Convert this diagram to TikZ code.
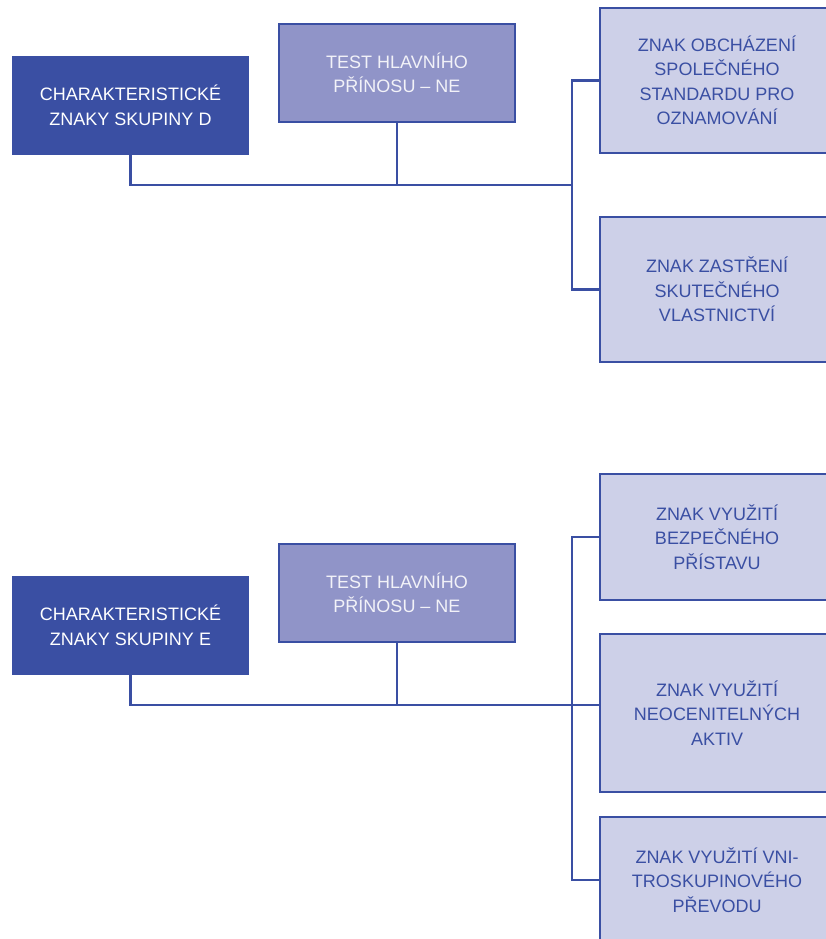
\documentclass[tikz,border=0pt]{standalone}
\usepackage{fontspec}
\setmainfont{Liberation Sans}
\usepackage{tikz}
\usetikzlibrary{positioning}

\definecolor{navy}{RGB}{58,79,163}
\definecolor{lilac}{RGB}{144,148,200}
\definecolor{pale}{RGB}{205,208,232}
\definecolor{snow}{RGB}{242,242,248}

\begin{document}
\begin{tikzpicture}[x=1pt,y=-1pt,line width=2.2pt,
            every node/.style={inner sep=0pt,align=center,
                  font=\fontsize{18}{24.5}\selectfont},
            grp/.style={rectangle,draw=navy,fill=navy,text=white,
                  minimum width=235pt,minimum height=97pt},
            test/.style={rectangle,draw=navy,fill=lilac,text=snow,
                  minimum width=236pt,minimum height=98pt},
            sign/.style={rectangle,draw=navy,fill=pale,text=navy,
                  minimum width=234pt},
            link/.style={draw=navy,line width=2.4pt}]

      \useasboundingbox (0,0) rectangle (826,939);
      \clip (0,0) rectangle (826,939);

      % skupina D
      \node[grp]  (grp_D)  at (130.5,105.5) {CHARAKTERISTICKÉ\\ZNAKY SKUPINY D};
      \node[test] (test_D) at (397,73)      {TEST HLAVNÍHO\\PŘÍNOSU – NE};
      \node[sign,minimum height=145pt] (obch)  at (717,80.5)
            {ZNAK OBCHÁZENÍ\\SPOLEČNÉHO\\STANDARDU PRO\\OZNAMOVÁNÍ};
      \node[sign,minimum height=145pt] (zastr) at (717,289.5)
            {ZNAK ZASTŘENÍ\\SKUTEČNÉHO\\VLASTNICTVÍ};
      \coordinate (hub_D) at (572,185);

      \path[link] (grp_D.south) |- (hub_D)
                  (test_D.south) -- (test_D.south |- hub_D)
                  (obch.west) -| (hub_D) |- (zastr.west);

      % skupina E
      \node[grp]  (grp_E)  at (130.5,625.5) {CHARAKTERISTICKÉ\\ZNAKY SKUPINY E};
      \node[test] (test_E) at (397,593)     {TEST HLAVNÍHO\\PŘÍNOSU – NE};
      \node[sign,minimum height=126pt] (bezp)   at (717,537)
            {ZNAK VYUŽITÍ\\BEZPEČNÉHO\\PŘÍSTAVU};
      \node[sign,minimum height=158pt] (neoc)   at (717,713)
            {ZNAK VYUŽITÍ\\NEOCENITELNÝCH\\AKTIV};
      \node[sign,minimum height=126pt] (vnitro) at (717,880)
            {ZNAK VYUŽITÍ VNI-\\TROSKUPINOVÉHO\\PŘEVODU};
      \coordinate (hub_E) at (572,705);

      \path[link] (grp_E.south) |- (hub_E)
                  (test_E.south) -- (test_E.south |- hub_E)
                  (hub_E) -- (neoc.west |- hub_E)
                  (bezp.west) -| (hub_E) |- (vnitro.west);

\end{tikzpicture}
\end{document}
